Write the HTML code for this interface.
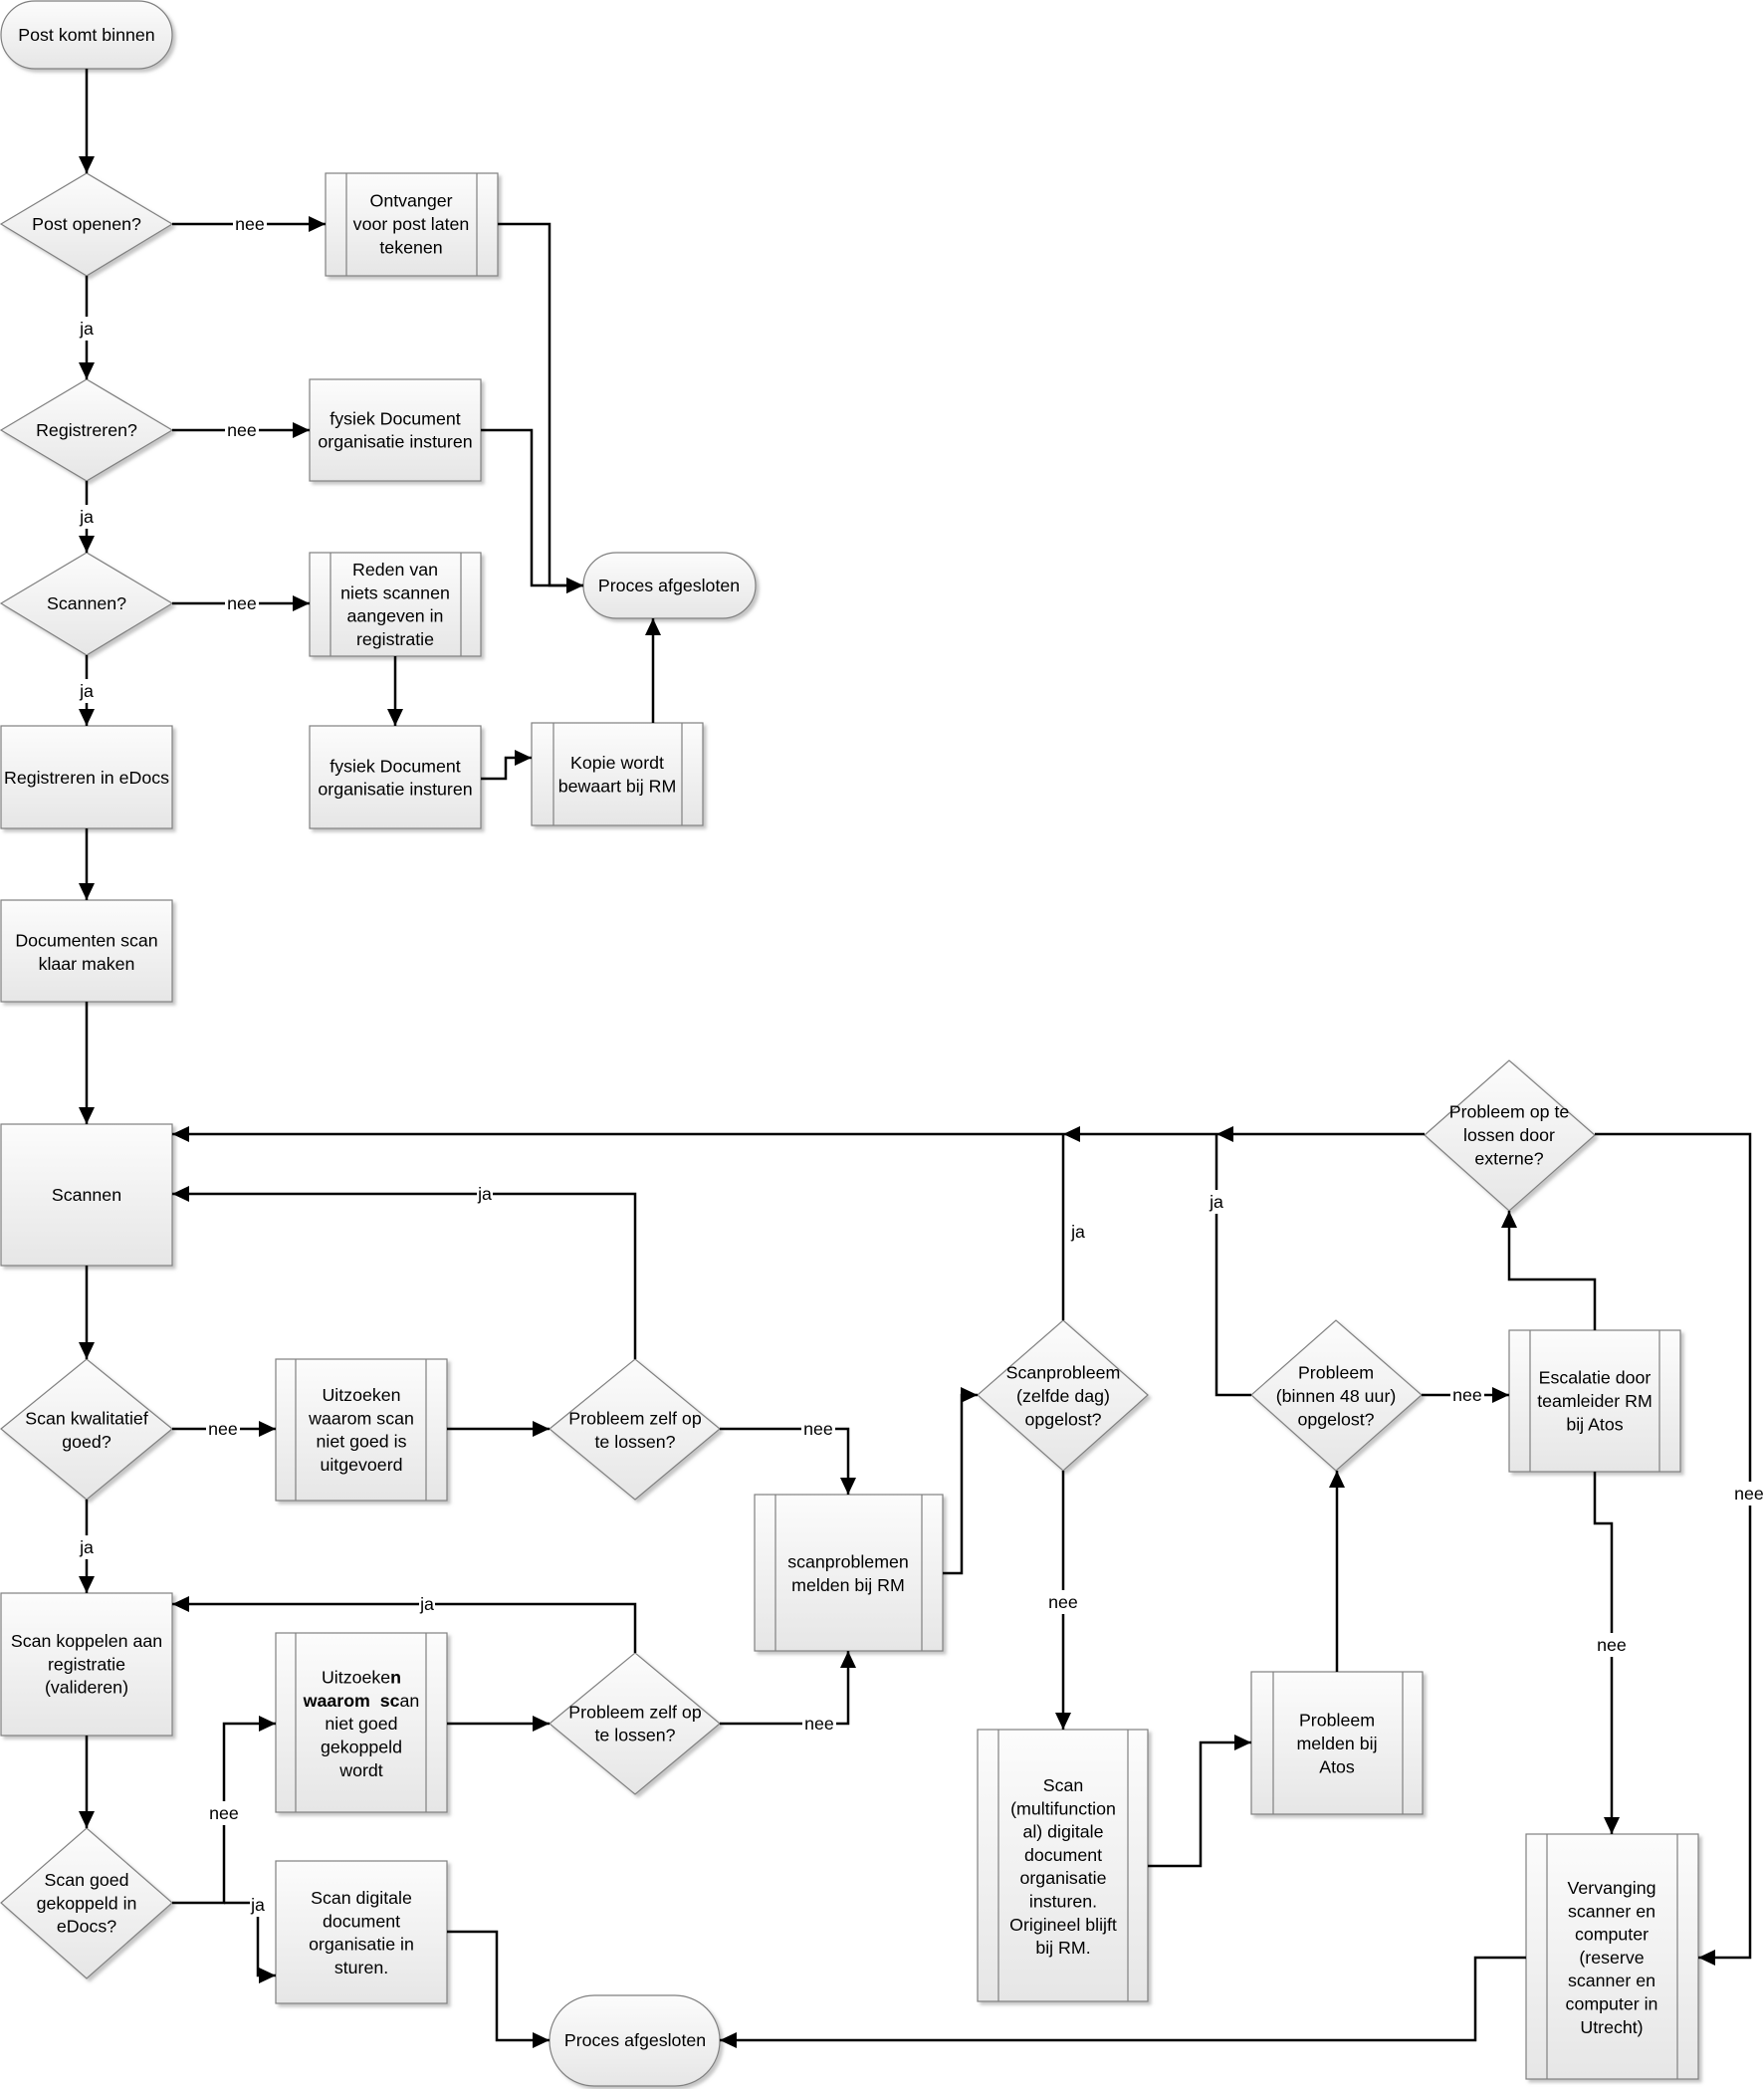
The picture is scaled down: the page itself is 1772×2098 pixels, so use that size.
<!DOCTYPE html>
<html>
<head>
<meta charset="utf-8">
<style>
html,body{margin:0;padding:0;background:#fff;}
svg{display:block;}
text{font-family:"Liberation Sans",sans-serif;font-size:17.8px;fill:#000;}
</style>
</head>
<body>
<svg width="1772" height="2098" viewBox="0 0 1772 2098" xmlns="http://www.w3.org/2000/svg">
<defs>
<linearGradient id="g" x1="0" y1="0" x2="0" y2="1">
<stop offset="0" stop-color="#fcfcfc"/>
<stop offset="1" stop-color="#e6e6e6"/>
</linearGradient>
<filter id="sh" x="-10%" y="-10%" width="130%" height="130%">
<feDropShadow dx="3" dy="3" stdDeviation="1.5" flood-color="#8a8a8a" flood-opacity="0.5"/>
</filter>
<marker id="a" markerUnits="userSpaceOnUse" markerWidth="17" markerHeight="16" viewBox="0 0 17 16" refX="17" refY="8" orient="auto">
<path d="M0,0 L17,8 L0,16 z" fill="#000"/>
</marker>
</defs>

<!-- ============ SHAPES ============ -->
<g fill="url(#g)" stroke="#808080" stroke-width="1.2" filter="url(#sh)">
<rect x="1" y="1" width="172" height="68" rx="34"/>
<polygon points="1,225 87,174 173,225 87,277"/>
<rect x="327" y="174" width="173" height="103"/>
<polygon points="1,432 87,381 173,432 87,483"/>
<rect x="311" y="381" width="172" height="102"/>
<polygon points="1,606 87,555 173,606 87,658"/>
<rect x="311" y="555" width="172" height="104"/>
<rect x="586" y="555" width="173" height="66" rx="33"/>
<rect x="1" y="729" width="172" height="103"/>
<rect x="311" y="729" width="172" height="103"/>
<rect x="534" y="726" width="172" height="103"/>
<rect x="1" y="904" width="172" height="102"/>
<rect x="1" y="1129" width="172" height="142"/>
<polygon points="1,1435 87,1365 173,1435 87,1506"/>
<rect x="277" y="1365" width="172" height="142"/>
<polygon points="552,1435 638,1365 723,1435 638,1506"/>
<rect x="758" y="1501" width="189" height="157"/>
<polygon points="982,1401 1068,1326 1153,1401 1068,1477"/>
<polygon points="1257,1401 1342,1326 1428,1401 1342,1477"/>
<rect x="1516" y="1336" width="172" height="142"/>
<polygon points="1431,1140 1516,1065 1602,1140 1516,1216"/>
<rect x="1" y="1600" width="172" height="143"/>
<rect x="277" y="1640" width="172" height="180"/>
<polygon points="552,1731 638,1660 723,1731 638,1802"/>
<polygon points="1,1911 87,1836 173,1911 87,1987"/>
<rect x="277" y="1869" width="172" height="143"/>
<rect x="552" y="2004" width="171" height="91" rx="45"/>
<rect x="982" y="1737" width="171" height="273"/>
<rect x="1257" y="1679" width="172" height="143"/>
<rect x="1533" y="1842" width="173" height="246"/>
</g>

<!-- subprocess inner lines -->
<g stroke="#808080" stroke-width="1.2">
<line x1="348" y1="174" x2="348" y2="277"/><line x1="479" y1="174" x2="479" y2="277"/>
<line x1="332" y1="555" x2="332" y2="659"/><line x1="463" y1="555" x2="463" y2="659"/>
<line x1="556" y1="726" x2="556" y2="829"/><line x1="685" y1="726" x2="685" y2="829"/>
<line x1="297" y1="1365" x2="297" y2="1507"/><line x1="428" y1="1365" x2="428" y2="1507"/>
<line x1="779" y1="1501" x2="779" y2="1658"/><line x1="926" y1="1501" x2="926" y2="1658"/>
<line x1="1537" y1="1336" x2="1537" y2="1478"/><line x1="1667" y1="1336" x2="1667" y2="1478"/>
<line x1="297" y1="1640" x2="297" y2="1820"/><line x1="428" y1="1640" x2="428" y2="1820"/>
<line x1="1003" y1="1737" x2="1003" y2="2010"/><line x1="1133" y1="1737" x2="1133" y2="2010"/>
<line x1="1279" y1="1679" x2="1279" y2="1822"/><line x1="1409" y1="1679" x2="1409" y2="1822"/>
<line x1="1554" y1="1842" x2="1554" y2="2088"/><line x1="1685" y1="1842" x2="1685" y2="2088"/>
</g>

<!-- ============ CONNECTORS ============ -->
<g fill="none" stroke="#000" stroke-width="2.5" stroke-linejoin="miter">
<path d="M87,69 V174" marker-end="url(#a)"/>
<path d="M173,225 H327" marker-end="url(#a)"/>
<path d="M500,225 H552 V588 H586" marker-end="url(#a)"/>
<path d="M87,277 V381" marker-end="url(#a)"/>
<path d="M173,432 H311" marker-end="url(#a)"/>
<path d="M483,432 H534 V588 H586" marker-end="url(#a)"/>
<path d="M87,483 V555" marker-end="url(#a)"/>
<path d="M173,606 H311" marker-end="url(#a)"/>
<path d="M87,658 V729" marker-end="url(#a)"/>
<path d="M397,659 V729" marker-end="url(#a)"/>
<path d="M483,782 H508 V761 H534" marker-end="url(#a)"/>
<path d="M656,726 V621" marker-end="url(#a)"/>
<path d="M87,832 V904" marker-end="url(#a)"/>
<path d="M87,1006 V1129" marker-end="url(#a)"/>
<path d="M87,1271 V1365" marker-end="url(#a)"/>
<path d="M173,1435 H277" marker-end="url(#a)"/>
<path d="M449,1435 H552" marker-end="url(#a)"/>
<path d="M638,1365 V1199 H173" marker-end="url(#a)"/>
<path d="M723,1435 H852 V1501" marker-end="url(#a)"/>
<path d="M947,1580 H966 V1401 H982" marker-end="url(#a)"/>
<path d="M1068,1326 V1139"/>
<path d="M1431,1139 H173" marker-end="url(#a)"/>
<path d="M1257,1401 H1222 V1139"/>
<path d="M1428,1401 H1516" marker-end="url(#a)"/>
<path d="M1602,1336 V1285 H1516 V1216" marker-end="url(#a)"/>
<path d="M1602,1478 V1530 H1619 V1842" marker-end="url(#a)"/>
<path d="M1602,1139 H1758 V1966 H1706" marker-end="url(#a)"/>
<path d="M1068,1477 V1737" marker-end="url(#a)"/>
<path d="M1153,1874 H1206 V1750 H1257" marker-end="url(#a)"/>
<path d="M1343,1679 V1477" marker-end="url(#a)"/>
<path d="M1533,1966 H1482 V2049 H723" marker-end="url(#a)"/>
<path d="M87,1506 V1600" marker-end="url(#a)"/>
<path d="M87,1743 V1836" marker-end="url(#a)"/>
<path d="M449,1731 H552" marker-end="url(#a)"/>
<path d="M638,1660 V1611 H173" marker-end="url(#a)"/>
<path d="M723,1731 H852 V1658" marker-end="url(#a)"/>
<path d="M173,1911 H225 V1731 H277" marker-end="url(#a)"/>
<path d="M225,1911 H259 V1984 H277" marker-end="url(#a)"/>
<path d="M449,1940 H499 V2049 H552" marker-end="url(#a)"/>
</g>
<!-- junction arrowheads -->
<polygon points="1222,1139 1239,1131 1239,1147" fill="#000"/>
<polygon points="1068,1139 1085,1131 1085,1147" fill="#000"/>

<!-- ============ CONNECTOR LABELS ============ -->
<g fill="#fff">
<rect x="234" y="213" width="34" height="24"/>
<rect x="79" y="318" width="16" height="24"/>
<rect x="226" y="420" width="34" height="24"/>
<rect x="79" y="507" width="16" height="24"/>
<rect x="226" y="594" width="34" height="24"/>
<rect x="79" y="682" width="16" height="24"/>
<rect x="207" y="1423" width="34" height="24"/>
<rect x="479" y="1187" width="16" height="24"/>
<rect x="805" y="1423" width="34" height="24"/>
<rect x="1214" y="1195" width="16" height="24"/>
<rect x="1457" y="1389" width="34" height="24"/>
<rect x="1740" y="1488" width="34" height="24"/>
<rect x="1602" y="1640" width="34" height="24"/>
<rect x="1051" y="1597" width="34" height="24"/>
<rect x="79" y="1542" width="16" height="24"/>
<rect x="421" y="1599" width="16" height="24"/>
<rect x="806" y="1719" width="34" height="24"/>
<rect x="208" y="1809" width="34" height="24"/>
<rect x="251" y="1901" width="16" height="24"/>
</g>
<g text-anchor="middle" dominant-baseline="central">
<text x="251" y="225">nee</text>
<text x="87" y="330">ja</text>
<text x="243" y="432">nee</text>
<text x="87" y="519">ja</text>
<text x="243" y="606">nee</text>
<text x="87" y="694">ja</text>
<text x="224" y="1435">nee</text>
<text x="487" y="1199">ja</text>
<text x="822" y="1435">nee</text>
<text x="1083" y="1237">ja</text>
<text x="1222" y="1207">ja</text>
<text x="1474" y="1401">nee</text>
<text x="1757" y="1500">nee</text>
<text x="1619" y="1652">nee</text>
<text x="1068" y="1609">nee</text>
<text x="87" y="1554">ja</text>
<text x="429" y="1611">ja</text>
<text x="823" y="1731">nee</text>
<text x="225" y="1821">nee</text>
<text x="259" y="1913">ja</text>
</g>

<!-- ============ NODE TEXT ============ -->
<g text-anchor="middle" dominant-baseline="central">
<text x="87" y="35">Post komt binnen</text>
<text x="87" y="225">Post openen?</text>
<text x="413" y="201.7">Ontvanger</text>
<text x="413" y="225">voor post laten</text>
<text x="413" y="248.3">tekenen</text>
<text x="87" y="432">Registreren?</text>
<text x="397" y="420.4">fysiek Document</text>
<text x="397" y="443.6">organisatie insturen</text>
<text x="87" y="606">Scannen?</text>
<text x="397" y="572">Reden van</text>
<text x="397" y="595.3">niets scannen</text>
<text x="397" y="618.6">aangeven in</text>
<text x="397" y="641.9">registratie</text>
<text x="672" y="588">Proces afgesloten</text>
<text x="87" y="781">Registreren in eDocs</text>
<text x="397" y="769.4">fysiek Document</text>
<text x="397" y="792.6">organisatie insturen</text>
<text x="620" y="766">Kopie wordt</text>
<text x="620" y="789.3">bewaart bij RM</text>
<text x="87" y="944.5">Documenten scan</text>
<text x="87" y="967.8">klaar maken</text>
<text x="87" y="1200">Scannen</text>
<text x="87" y="1424.5">Scan kwalitatief</text>
<text x="87" y="1447.8">goed?</text>
<text x="363" y="1401">Uitzoeken</text>
<text x="363" y="1424.3">waarom scan</text>
<text x="363" y="1447.6">niet goed is</text>
<text x="363" y="1470.9">uitgevoerd</text>
<text x="638" y="1424.5">Probleem zelf op</text>
<text x="638" y="1447.8">te lossen?</text>
<text x="852" y="1568.5">scanproblemen</text>
<text x="852" y="1591.8">melden bij RM</text>
<text x="1068" y="1378.7">Scanprobleem</text>
<text x="1068" y="1402">(zelfde dag)</text>
<text x="1068" y="1425.3">opgelost?</text>
<text x="1342" y="1378.7">Probleem</text>
<text x="1342" y="1402">(binnen 48 uur)</text>
<text x="1342" y="1425.3">opgelost?</text>
<text x="1602" y="1383.7">Escalatie door</text>
<text x="1602" y="1407">teamleider RM</text>
<text x="1602" y="1430.3">bij Atos</text>
<text x="1516" y="1116.7">Probleem op te</text>
<text x="1516" y="1140">lossen door</text>
<text x="1516" y="1163.3">externe?</text>
<text x="87" y="1648">Scan koppelen aan</text>
<text x="87" y="1671.3">registratie</text>
<text x="87" y="1694.6">(valideren)</text>
<text x="363" y="1684.6">Uitzoeke<tspan font-weight="bold">n</tspan></text>
<text x="363" y="1707.9" xml:space="preserve"><tspan font-weight="bold">waarom  sc</tspan>an</text>
<text x="363" y="1731.2">niet goed</text>
<text x="363" y="1754.5">gekoppeld</text>
<text x="363" y="1777.8">wordt</text>
<text x="638" y="1719.4">Probleem zelf op</text>
<text x="638" y="1742.7">te lossen?</text>
<text x="87" y="1888">Scan goed</text>
<text x="87" y="1911.3">gekoppeld in</text>
<text x="87" y="1934.6">eDocs?</text>
<text x="363" y="1906">Scan digitale</text>
<text x="363" y="1929.3">document</text>
<text x="363" y="1952.6">organisatie in</text>
<text x="363" y="1975.9">sturen.</text>
<text x="638" y="2049">Proces afgesloten</text>
<text x="1068" y="1793">Scan</text>
<text x="1068" y="1816.3">(multifunction</text>
<text x="1068" y="1839.6">al) digitale</text>
<text x="1068" y="1862.9">document</text>
<text x="1068" y="1886.2">organisatie</text>
<text x="1068" y="1909.5">insturen.</text>
<text x="1068" y="1932.8">Origineel blijft</text>
<text x="1068" y="1956.1">bij RM.</text>
<text x="1343" y="1727.7">Probleem</text>
<text x="1343" y="1751">melden bij</text>
<text x="1343" y="1774.3">Atos</text>
<text x="1619" y="1896">Vervanging</text>
<text x="1619" y="1919.3">scanner en</text>
<text x="1619" y="1942.6">computer</text>
<text x="1619" y="1965.9">(reserve</text>
<text x="1619" y="1989.2">scanner en</text>
<text x="1619" y="2012.5">computer in</text>
<text x="1619" y="2035.8">Utrecht)</text>
</g>
</svg>
</body>
</html>
